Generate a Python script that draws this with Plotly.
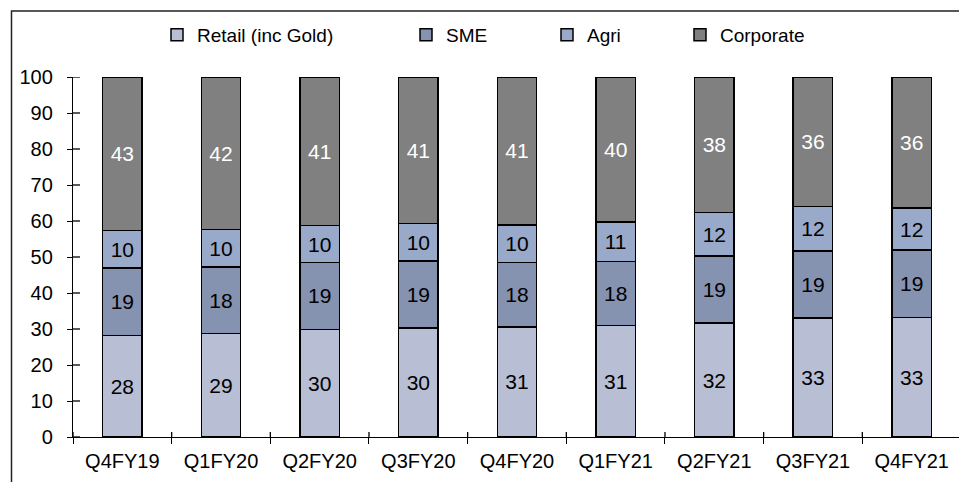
import plotly.graph_objects as go

# Loan book mix by quarter (% of total advances)
quarters = ["Q4FY19", "Q1FY20", "Q2FY20", "Q3FY20", "Q4FY20",
            "Q1FY21", "Q2FY21", "Q3FY21", "Q4FY21"]
retail = [28.2, 28.8, 29.9, 30.3, 30.6, 31.0, 31.6, 33.1, 33.2]
sme = [18.8, 18.4, 18.6, 18.6, 17.9, 17.7, 18.7, 18.6, 18.7]
agri = [10.4, 10.4, 10.2, 10.4, 10.4, 11.0, 12.0, 12.3, 11.7]
corporate = [42.6, 42.4, 41.3, 40.7, 41.1, 40.3, 37.7, 36.0, 36.4]
y_ticks = list(range(0, 101, 10))

FONT = "Liberation Sans, Arial, sans-serif"
W, H = 959, 482
ML, MR, MT, MB = 73, 0, 77, 45
PW, PH = W - ML - MR, H - MT - MB

series = [
    ("Retail (inc Gold)", retail, "#B8BED4", "black", "legend"),
    ("SME", sme, "#8592B0", "black", "legend2"),
    ("Agri", agri, "#98A9C9", "black", "legend3"),
    ("Corporate", corporate, "#808080", "white", "legend4"),
]

fig = go.Figure()
for name, vals, color, tcolor, leg in series:
    fig.add_trace(go.Bar(
        name=name, x=quarters, y=vals, width=0.40,
        marker=dict(color=color, line=dict(color="black", width=1.5)),
        texttemplate="%{y:.0f}", textposition="inside",
        insidetextanchor="middle", textangle=0, constraintext="none",
        textfont=dict(family=FONT, size=21, color=tcolor),
        legend=leg, hoverinfo="x+y+name",
    ))

n = len(quarters)
x_max = n - 0.5 - 0.02
bounds = [i - 0.5 for i in range(n + 1)]


def px_x(p):
    return (p - ML) / PW


def px_y(p):
    return 1 - (p - MT) / PH


tick_line = dict(color="black", width=1.3)
shapes = []
# inner half of the crossing tick marks (outer half comes from the axes)
for v in y_ticks:
    shapes.append(dict(type="line", xref="x", yref="y", xsizemode="pixel",
                       xanchor=-0.5, x0=0, x1=7, y0=v, y1=v,
                       line=tick_line, layer="above"))
for b in bounds:
    shapes.append(dict(type="line", xref="x", yref="y", ysizemode="pixel",
                       yanchor=0, y0=0, y1=5, x0=b, x1=b,
                       line=tick_line, layer="above"))
# chart frame
shapes.append(dict(
    type="rect", xref="paper", yref="paper",
    x0=px_x(11.5), x1=px_x(W + 20), y0=px_y(H + 20), y1=px_y(11),
    line=dict(color="#222222", width=1.5), fillcolor="rgba(0,0,0,0)",
    layer="above",
))

legend_text_x = [157, 406, 547, 680]
legend_common = dict(orientation="h", xanchor="left", yanchor="middle",
                     y=px_y(35), bgcolor="rgba(0,0,0,0)",
                     font=dict(family=FONT, size=19, color="black"))

fig.update_layout(
    width=W, height=H,
    margin=dict(l=ML, r=MR, t=MT, b=MB, pad=0),
    paper_bgcolor="white", plot_bgcolor="white",
    barmode="stack",
    font=dict(family=FONT, color="black"),
    showlegend=True,
    legend=dict(x=px_x(legend_text_x[0]), **legend_common),
    legend2=dict(x=px_x(legend_text_x[1]), **legend_common),
    legend3=dict(x=px_x(legend_text_x[2]), **legend_common),
    legend4=dict(x=px_x(legend_text_x[3]), **legend_common),
    xaxis=dict(
        type="category", categoryorder="array", categoryarray=quarters,
        range=[-0.5, x_max], tickson="boundaries",
        ticks="outside", ticklen=6, tickwidth=1.3, tickcolor="black",
        showline=True, linecolor="black", linewidth=1.3,
        showgrid=False, zeroline=False,
        tickfont=dict(family=FONT, size=20, color="black"),
        ticklabelstandoff=6,
    ),
    yaxis=dict(
        range=[0, 100], tickvals=y_ticks,
        ticks="outside", ticklen=5, tickwidth=1.3, tickcolor="black",
        showline=True, linecolor="black", linewidth=1.3,
        showgrid=False, zeroline=False,
        tickfont=dict(family=FONT, size=20, color="black"),
        ticklabelstandoff=10,
    ),
    shapes=shapes,
)

fig.write_html("out.html")
